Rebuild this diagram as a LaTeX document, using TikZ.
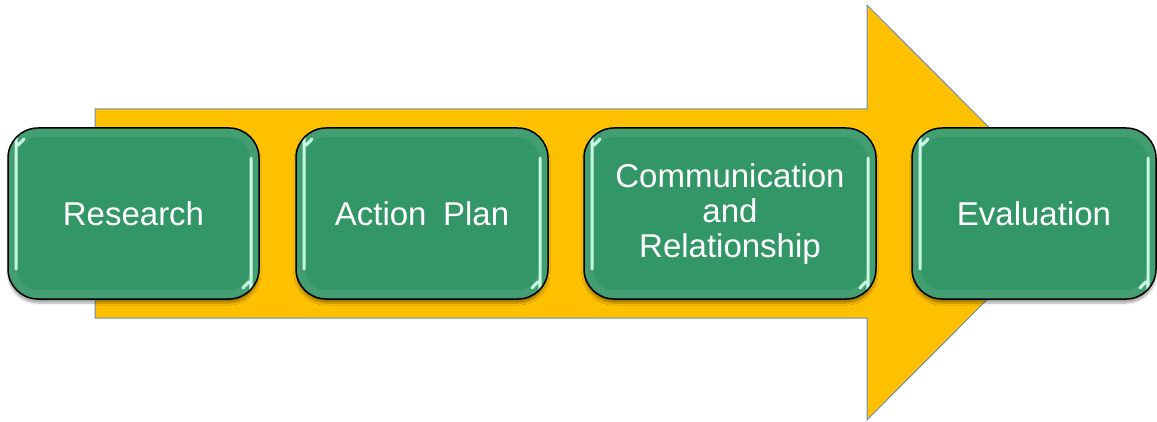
\documentclass[tikz,border=0pt]{standalone}
\usepackage{fontspec}
\setmainfont{Liberation Sans}
\usetikzlibrary{shadows.blur}
\definecolor{stepgreen}{RGB}{51,150,102}
\definecolor{arrowfill}{RGB}{255,192,0}
\definecolor{arrowline}{RGB}{108,142,191}
\definecolor{glint}{RGB}{200,250,225}
\tikzset{
  stepbox/.style={
    draw=black, line width=1.5pt, fill=stepgreen, rounded corners=30pt,
    minimum height=171pt, inner sep=0pt, align=center, text=white,
    font=\fontsize{33}{35}\selectfont,
    blur shadow={shadow xshift=0pt, shadow yshift=-4pt, shadow blur steps=6, shadow opacity=35},
    path picture={
      \coordinate (bl) at (path picture bounding box.south west);
      \coordinate (tr) at (path picture bounding box.north east);
      % soft inner rim
      \draw[white, opacity=0.08, line width=10pt, rounded corners=26pt]
        ([shift={(4pt,4pt)}]bl) rectangle ([shift={(-4pt,-4pt)}]tr);
      % left glint, curling round the upper corner
      \draw[glint, line width=3pt, line cap=round]
        ([shift={(8pt,30pt)}]bl) -- ([shift={(8pt,-34pt)}]bl |- tr)
        .. controls ([shift={(8pt,-20pt)}]bl |- tr) .. ([shift={(16pt,-11pt)}]bl |- tr);
      % right glint, curling round the lower corner
      \draw[glint, line width=3pt, line cap=round]
        ([shift={(-8pt,-30pt)}]tr) -- ([shift={(-8pt,34pt)}]tr |- bl)
        .. controls ([shift={(-8pt,20pt)}]tr |- bl) .. ([shift={(-16pt,11pt)}]tr |- bl);
    }
  },
  bigarrow/.style={fill=arrowfill, draw=arrowline, line width=1pt, line join=miter}
}
\begin{document}
\begin{tikzpicture}[x=1pt, y=-1pt]
  \useasboundingbox (0,0) rectangle (1157,422);
  % the broad arrow behind the steps
  \draw[bigarrow] (95,109) -- (867,109) -- (867,5) -- (1074,212.5)
     -- (867,420) -- (867,318) -- (95,318) -- cycle;
  % the four steps
  \node[stepbox, minimum width=251pt] (research) at (133.5,213.5) {Research};
  \node[stepbox, minimum width=252pt] (plan) at (422,213.5) {Action\hspace{0.5em}Plan};
  \node[stepbox, minimum width=292pt] (comm) at (730,213.5) {Communication\\and\\Relationship};
  \node[stepbox, minimum width=244pt] (eval) at (1034,213.5) {Evaluation};
\end{tikzpicture}
\end{document}
